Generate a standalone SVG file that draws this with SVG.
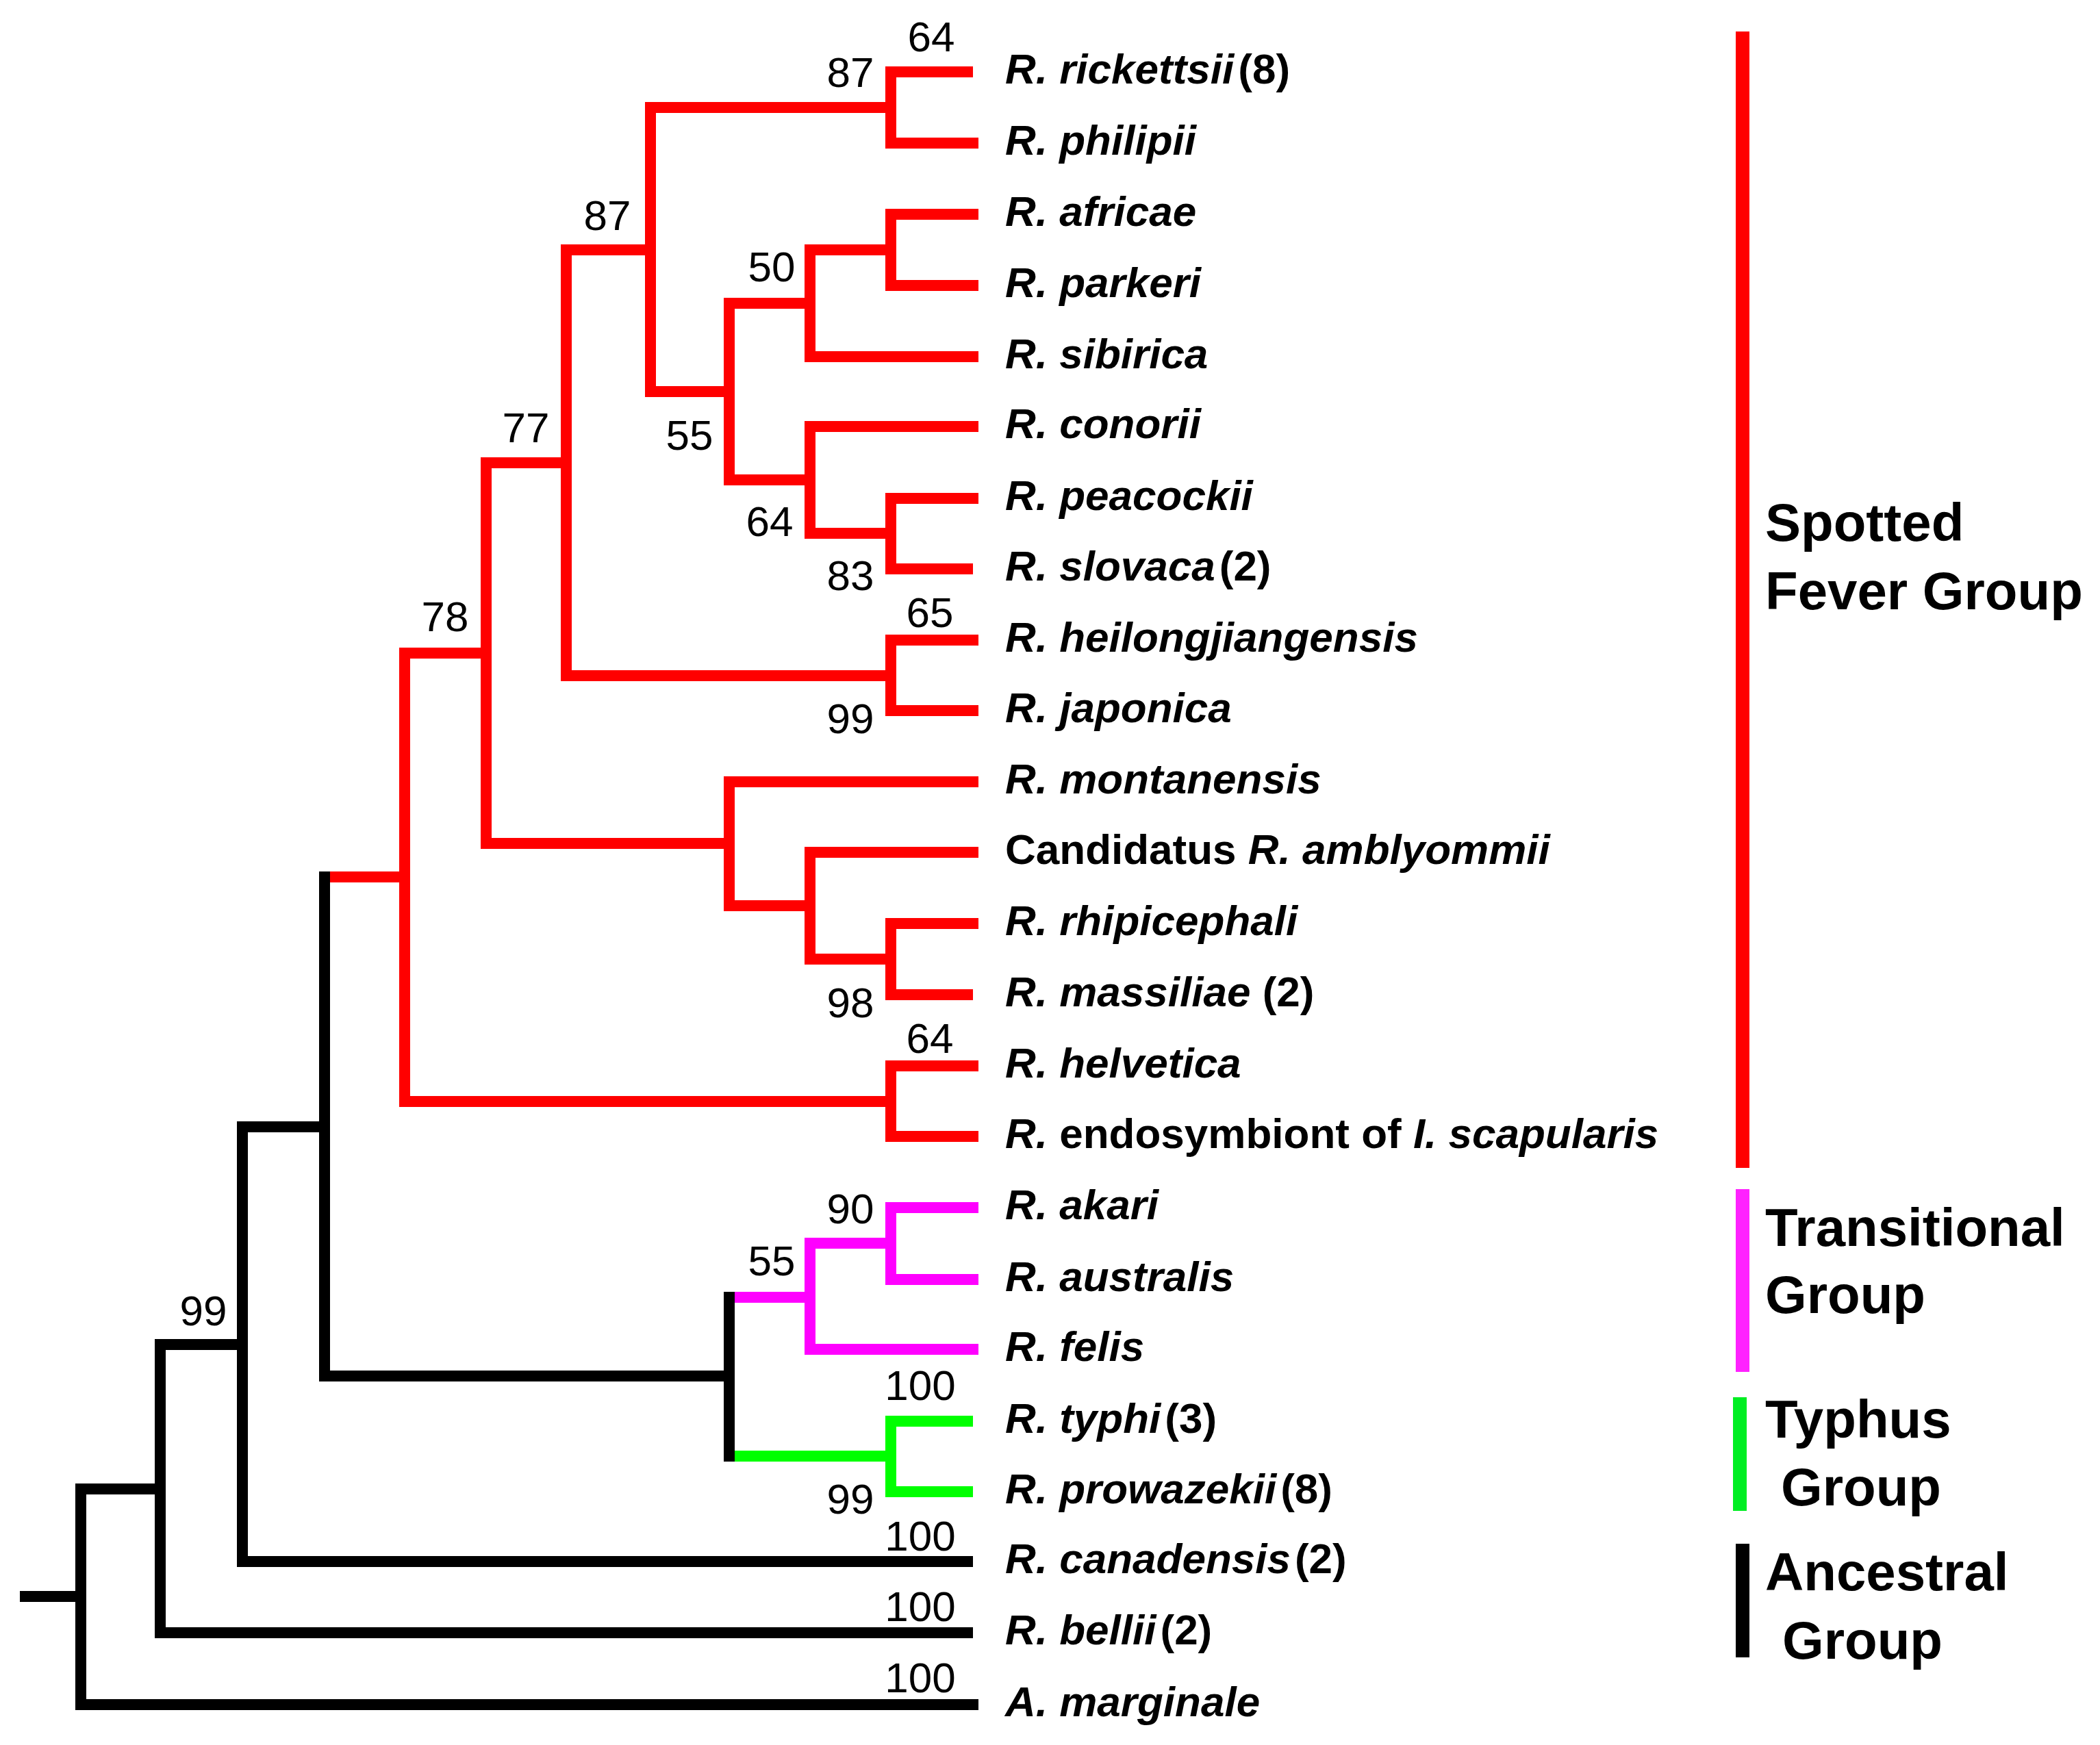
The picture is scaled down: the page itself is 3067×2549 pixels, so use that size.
<svg xmlns="http://www.w3.org/2000/svg" width="3067" height="2549" viewBox="0 0 3067 2549">
<style>
.k{stroke:#000000;stroke-width:16;fill:none}
.r{stroke:#ff0000;stroke-width:16;fill:none}
.m{stroke:#ff00ff;stroke-width:16;fill:none}
.g{stroke:#00ff00;stroke-width:16;fill:none}
.bs{font-family:"Liberation Sans",Arial,sans-serif;font-size:62px;text-anchor:middle;fill:#000}
.tip{font-family:"Liberation Sans",Arial,sans-serif;font-size:62px;font-weight:bold;font-style:italic;fill:#000}
.n{font-style:normal}
.grp{font-family:"Liberation Sans",Arial,sans-serif;font-size:78px;font-weight:bold;fill:#000}
</style>
<rect width="3067" height="2549" fill="#ffffff"/>
<g id="connectors">
<g class="r">
<path d="M482 1281H591M591 946V1617M591 954H710M591 1609H1301M1301 1549V1668M1301 1557H1429M1301 1660H1429"/>
<path d="M710 668V1240M710 676H827M710 1232H1065M1065 1134V1331M1065 1142H1429M1065 1323H1183M1183 1237V1409M1183 1245H1429M1183 1401H1301M1301 1341V1461M1301 1349H1429M1301 1453H1421"/>
<path d="M827 357V995M827 987H1301M1301 927V1046M1301 935H1429M1301 1038H1429M827 365H950"/>
<path d="M950 149V580M950 157H1301M1301 97V217M1301 105H1421M1301 209H1429"/>
<path d="M950 572H1065M1065 435V709M1065 443H1183M1183 357V529M1183 365H1301M1301 305V425M1301 313H1429M1301 417H1429M1183 521H1429"/>
<path d="M1065 701H1183M1183 615V787M1183 623H1429M1183 779H1301M1301 720V839M1301 728H1429M1301 831H1421"/>
</g>
<g class="m">
<path d="M1073 1895H1183M1183 1808V1979M1183 1971H1429M1183 1816H1301M1301 1756V1877M1301 1764H1429M1301 1869H1429"/>
</g>
<g class="g">
<path d="M1073 2127H1301M1301 2068V2187M1301 2076H1421M1301 2179H1421"/>
</g>
<g class="k">
<path d="M29 2332H118M118 2167V2498M118 2175H234M118 2490H1429"/>
<path d="M234 1956V2393M234 2385H1421M234 1964H354M354 1638V2289M354 2281H1421M354 1646H474"/>
<path d="M474 1273V2018M474 2010H1065M1065 1887V2135"/>
</g>
</g>
<g id="bootstrap">
<text class="bs" x="1360" y="75">64</text>
<text class="bs" x="1242" y="127">87</text>
<text class="bs" x="887" y="336">87</text>
<text class="bs" x="1127" y="411">50</text>
<text class="bs" x="1007" y="657">55</text>
<text class="bs" x="768" y="646">77</text>
<text class="bs" x="1124" y="783">64</text>
<text class="bs" x="1242" y="862">83</text>
<text class="bs" x="1358" y="916">65</text>
<text class="bs" x="1242" y="1071">99</text>
<text class="bs" x="650" y="922">78</text>
<text class="bs" x="1242" y="1486">98</text>
<text class="bs" x="1358" y="1538">64</text>
<text class="bs" x="1242" y="1787">90</text>
<text class="bs" x="1127" y="1863">55</text>
<text class="bs" x="297" y="1936">99</text>
<text class="bs" x="1344" y="2045">100</text>
<text class="bs" x="1242" y="2211">99</text>
<text class="bs" x="1344" y="2265">100</text>
<text class="bs" x="1344" y="2368">100</text>
<text class="bs" x="1344" y="2472">100</text>
</g>
<g id="tips">
<g id="t-rickettsii"><text class="tip" x="1468" y="122">R. rickettsii<tspan class="n" dx="6">(8)</tspan></text></g>
<g id="t-philipii"><text class="tip" x="1468" y="226">R. philipii</text></g>
<g id="t-africae"><text class="tip" x="1468" y="330">R. africae</text></g>
<g id="t-parkeri"><text class="tip" x="1468" y="434">R. parkeri</text></g>
<g id="t-sibirica"><text class="tip" x="1468" y="538">R. sibirica</text></g>
<g id="t-conorii"><text class="tip" x="1468" y="640">R. conorii</text></g>
<g id="t-peacockii"><text class="tip" x="1468" y="745">R. peacockii</text></g>
<g id="t-slovaca"><text class="tip" x="1468" y="848">R. slovaca<tspan class="n" dx="6">(2)</tspan></text></g>
<g id="t-heilongjiangensis"><text class="tip" x="1468" y="952">R. heilongjiangensis</text></g>
<g id="t-japonica"><text class="tip" x="1468" y="1055">R. japonica</text></g>
<g id="t-montanensis"><text class="tip" x="1468" y="1159">R. montanensis</text></g>
<g id="t-amblyommii"><text class="tip" x="1468" y="1262"><tspan class="n">Candidatus </tspan>R. amblyommii</text></g>
<g id="t-rhipicephali"><text class="tip" x="1468" y="1366">R. rhipicephali</text></g>
<g id="t-massiliae"><text class="tip" x="1468" y="1470">R. massiliae <tspan class="n">(2)</tspan></text></g>
<g id="t-helvetica"><text class="tip" x="1468" y="1574">R. helvetica</text></g>
<g id="t-endosymbiont"><text class="tip" x="1468" y="1677">R.<tspan class="n"> endosymbiont of </tspan>I. scapularis</text></g>
<g id="t-akari"><text class="tip" x="1468" y="1781">R. akari</text></g>
<g id="t-australis"><text class="tip" x="1468" y="1886">R. australis</text></g>
<g id="t-felis"><text class="tip" x="1468" y="1988">R. felis</text></g>
<g id="t-typhi"><text class="tip" x="1468" y="2093">R. typhi<tspan class="n" dx="6">(3)</tspan></text></g>
<g id="t-prowazekii"><text class="tip" x="1468" y="2196">R. prowazekii<tspan class="n" dx="6">(8)</tspan></text></g>
<g id="t-canadensis"><text class="tip" x="1468" y="2298">R. canadensis<tspan class="n" dx="6">(2)</tspan></text></g>
<g id="t-bellii"><text class="tip" x="1468" y="2402">R. bellii<tspan class="n" dx="6">(2)</tspan></text></g>
<g id="t-marginale"><text class="tip" x="1468" y="2507">A. marginale</text></g>
</g>
<g id="groups">
<g id="g-spotted"><rect x="2535" y="46" width="20" height="1660" fill="#ff0000"/><text class="grp" x="2578" y="790">Spotted</text><text class="grp" x="2578" y="890">Fever Group</text></g>
<g id="g-transitional"><rect x="2535" y="1737" width="20" height="267" fill="#ff22ff"/><text class="grp" x="2578" y="1820">Transitional</text><text class="grp" x="2578" y="1918">Group</text></g>
<g id="g-typhus"><rect x="2531" y="2041" width="20" height="166" fill="#00ee22"/><text class="grp" x="2578" y="2100">Typhus</text><text class="grp" x="2601" y="2199">Group</text></g>
<g id="g-ancestral"><rect x="2535" y="2255" width="20" height="166" fill="#000000"/><text class="grp" x="2578" y="2323">Ancestral</text><text class="grp" x="2603" y="2423">Group</text></g>
</g>
</svg>
